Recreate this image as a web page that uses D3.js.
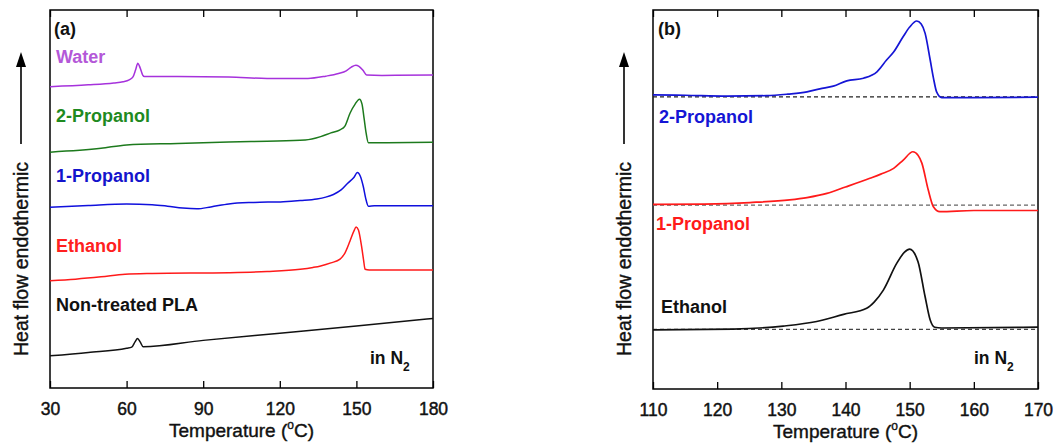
<!DOCTYPE html>
<html><head><meta charset="utf-8">
<script src="https://cdn.jsdelivr.net/npm/d3@7"></script>
<style>body{margin:0;background:#fff}svg{display:block;font-family:"Liberation Sans",Arial,sans-serif}</style>
</head><body><svg id="c" width="1058" height="448"></svg>
<script>
// ---------- Panel (a) data: [temperature °C, heat flow (a.u., offset)] ----------
const ticksA = [30, 60, 90, 120, 150, 180];
const water = [[30,79.7],[45,80.2],[55,80.7],[58.6,81.0],[61,81.5],[62.5,82.3],[63.5,84.1],[64.4,85.9],[65.3,84.7],[66.3,82.8],[67,82.4],[80,82.4],[100,82.3],[115,81.9],[131,81.9],[138,82.5],[143,83.2],[146,83.9],[148,84.9],[149.8,85.4],[151,85.1],[152.5,84.1],[154,82.8],[160,82.7],[180,82.8]];
const prop2A = [[30,62.4],[50,63.4],[60,64.3],[80,64.7],[100,65.1],[115,65.3],[130,65.6],[136,66.5],[140,67.5],[143.6,68.3],[145.5,69.3],[147.5,72.7],[149.5,75.1],[151.2,76.4],[152.2,75.1],[153,71.4],[153.8,67.5],[154.7,64.9],[157,64.9],[180,65.0]];
const prop1A = [[30,47.8],[45,48.3],[60,48.7],[70,48.5],[76,48.1],[82,47.6],[87.5,47.4],[93,47.9],[100,48.7],[110,49.1],[121.4,49.3],[128,49.6],[134.5,50.0],[138,50.5],[141,51.2],[144,52.4],[146.5,54.1],[149,55.7],[150.4,57.0],[151.5,56.1],[152.7,53.3],[153.6,50.3],[154.7,48.1],[157,48.2],[180,48.2]];
const ethanolA = [[30,28.4],[40,28.8],[50,29.4],[59.4,30.1],[70,30.3],[100,30.5],[115,30.8],[128,31.4],[133,31.9],[136,32.3],[140,33.1],[143.6,34.1],[145.5,35.7],[147.5,38.9],[149,41.5],[149.9,42.6],[150.8,41.8],[152,37.6],[152.8,33.9],[153.4,31.4],[155,31.2],[180,31.2]];
const pla = [[30,8.5],[45,9.4],[60,10.5],[62,10.8],[63.3,12.2],[64.3,13.1],[65.3,12.2],[66.5,10.9],[90,12.6],[120,14.5],[150,16.4],[180,18.4]];
const namesA = ["Water","2-Propanol","1-Propanol","Ethanol","Non-treated PLA"];

// ---------- Panel (b) data ----------
const ticksB = [110, 120, 130, 140, 150, 160, 170];
const prop2B = [[110,77.6],[115,77.5],[121.5,77.3],[127.7,77.4],[131,77.8],[134,78.4],[136,79.2],[138.1,79.9],[140.2,81.3],[142.8,82.0],[144.9,83.7],[146.4,86.8],[147.5,88.9],[149,93.0],[150,95.5],[151.1,97.1],[151.8,96.3],[152.4,93.9],[153.2,86.8],[153.7,82.1],[154.2,78.4],[155,76.9],[160,76.9],[170,77.0]];
const prop1B = [[110,48.7],[118,48.8],[125.1,49.2],[131.3,49.9],[134,50.5],[137.1,51.6],[140,53.3],[143.8,55.6],[145.5,56.7],[147.5,58.2],[149,60.4],[150.5,62.6],[151.3,61.7],[151.9,59.6],[152.9,52.5],[153.7,48.1],[154.7,46.8],[160,47.1],[170,47.1]];
const ethanolB = [[110,15.6],[122.5,15.8],[130.3,16.6],[135.5,17.8],[139.7,19.7],[143.3,21.3],[144.5,23.0],[145.9,26.1],[148,33.2],[149.2,36.1],[150,36.9],[151.3,33.6],[152.4,24.4],[153.2,18.2],[153.9,16.3],[155,16.1],[170,16.3]];
const baselinesB = [77.1, 48.5, 15.75];
const namesB = ["2-Propanol","1-Propanol","Ethanol"];

const svg = d3.select("#c");
const fontTick = 17.5;

function panel(opt){
  const {left,right,top,bottom,xDomain,ticks} = opt;
  const x = d3.scaleLinear().domain(xDomain).range([left,right]);
  const y = d3.scaleLinear().domain([0,100]).range([bottom,top]);
  const g = svg.append("g");
  g.append("g").attr("transform",`translate(0,${top})`)
    .call(d3.axisBottom(x).tickValues(ticks).tickSize(7).tickFormat(""))
    .call(a=>a.select(".domain").remove())
    .call(a=>a.selectAll("line").attr("stroke","#000").attr("stroke-width",1.3));
  const ax = g.append("g").attr("transform",`translate(0,${bottom})`)
    .call(d3.axisTop(x).tickValues(ticks).tickSize(7).tickFormat(d3.format("d")))
    .call(a=>a.select(".domain").remove());
  ax.selectAll("line").attr("stroke","#000").attr("stroke-width",1.3);
  ax.selectAll("text").attr("y",27).attr("dy",null).attr("font-size",fontTick)
    .attr("fill","#111").attr("stroke","#111").attr("stroke-width",0.45)
    .attr("font-family","Liberation Sans, Arial, sans-serif");
  g.append("rect").attr("x",left).attr("y",top).attr("width",right-left).attr("height",bottom-top)
    .attr("fill","none").attr("stroke","#000").attr("stroke-width",1.5);
  const t = g.append("text").attr("x",(left+right)/2).attr("y",bottom+49).attr("text-anchor","middle")
    .attr("font-size",19).attr("fill","#111").attr("stroke","#111").attr("stroke-width",0.4);
  t.append("tspan").text("Temperature (");
  t.append("tspan").text("o").attr("font-size",12).attr("dy",-8);
  t.append("tspan").text("C)").attr("dy",8);
  const ax0 = left-29;
  g.append("text").attr("transform",`translate(${ax0+7},259) rotate(-90)`).attr("text-anchor","middle")
    .attr("font-size",19.5).attr("fill","#111").attr("stroke","#111").attr("stroke-width",0.4)
    .text("Heat flow endothermic");
  g.append("line").attr("x1",ax0).attr("x2",ax0).attr("y1",144).attr("y2",64)
    .attr("stroke","#000").attr("stroke-width",1.6);
  g.append("path").attr("d",`M${ax0},52L${ax0-5},67L${ax0+5},67Z`).attr("fill","#000");
  g.append("text").attr("x",left+opt.letterDx).attr("y",top+25).attr("font-size",18).attr("font-weight","bold")
    .attr("fill","#111").text(opt.letter);
  const n = g.append("text").attr("x",opt.n2x).attr("y",364).attr("font-size",17.5).attr("font-weight","bold").attr("fill","#111");
  n.append("tspan").text("in N");
  n.append("tspan").text("2").attr("font-size",12).attr("dy",7);
  return {x,y,g};
}

const A = panel({left:50,right:433,top:10,bottom:388,xDomain:[30,180],ticks:ticksA,letter:"(a)",letterDx:4,n2x:370});
const B = panel({left:653,right:1038,top:10,bottom:389,xDomain:[110,170],ticks:ticksB,letter:"(b)",letterDx:5,n2x:974});

function drawLine(P,data,color,w){
  const line = d3.line().x(d=>P.x(d[0])).y(d=>P.y(d[1])).curve(d3.curveMonotoneX);
  P.g.append("path").datum(data).attr("d",line).attr("fill","none").attr("stroke",color)
    .attr("stroke-width",w||1.5).attr("stroke-linejoin","round");
}
function label(P,x,y,txt,color){
  P.g.append("text").attr("x",x).attr("y",y).attr("font-size",18).attr("font-weight","bold")
    .attr("fill",color).text(txt);
}

const colA = ["#a632dc","#1d7a1d","#1010dd","#ff1a1a","#111111"];
const labColA = ["#b458d8","#1f8a1f","#1414cc","#ff2020","#111111"];
[water,prop2A,prop1A,ethanolA,pla].forEach((s,i)=>drawLine(A,s,colA[i],1.5));
const labYA = [63,122,182,252,311];
namesA.forEach((nm,i)=>label(A,56,labYA[i],nm,labColA[i]));

const colB = ["#1515d5","#ff1a1a","#111111"];
const dashCol = ["#222","#666","#444"];
baselinesB.forEach((b,i)=>{
  B.g.append("line").attr("x1",B.x(110)).attr("x2",B.x(170)).attr("y1",B.y(b)).attr("y2",B.y(b))
    .attr("stroke",dashCol[i]).attr("stroke-width",1.2).attr("stroke-dasharray","4,3");
});
[prop2B,prop1B,ethanolB].forEach((s,i)=>drawLine(B,s,colB[i],1.7));
const labXB = [659,656,661], labYB = [123,230,313];
namesB.forEach((nm,i)=>label(B,labXB[i],labYB[i],nm,colB[i]));
</script></body></html>
